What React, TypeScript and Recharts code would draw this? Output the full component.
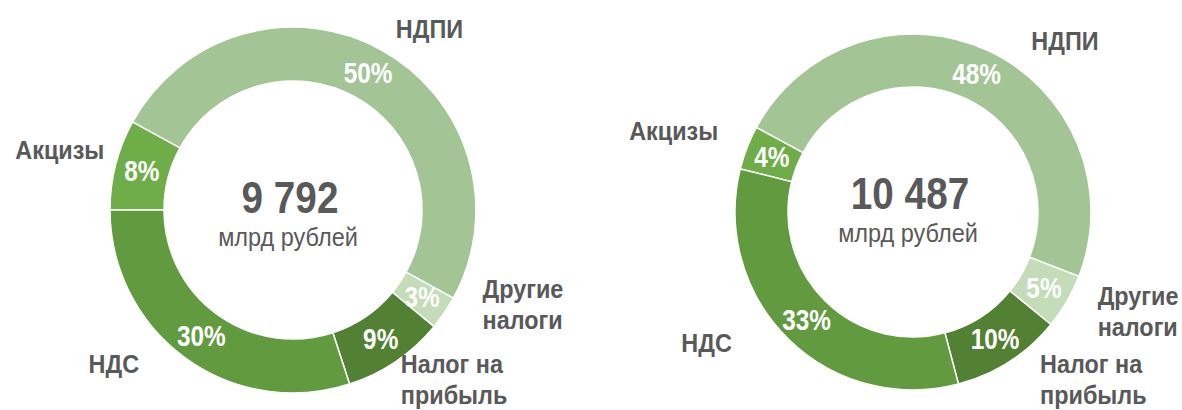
import { PieChart, Pie, Cell } from "recharts";

// slice order runs clockwise from the left edge of each ring
const categories = ["Акцизы", "НДПИ", "Другие налоги", "Налог на прибыль", "НДС"];
const nameLines = [["Акцизы"], ["НДПИ"], ["Другие", "налоги"], ["Налог на", "прибыль"], ["НДС"]];
const leftShares = [8, 50, 3, 9, 30];
const rightShares = [4, 48, 5, 10, 33];
const totals = ["9 792", "10 487"];
const unit = "млрд рублей";

const COLORS = ["#6EAD47", "#A3C595", "#C4DCB7", "#528133", "#629B3F"];
const TEXT = "#595959";
const FONT = "'Liberation Sans', Arial, sans-serif";

// small hand nudges for the outside names, as in the original slide
const leftNudge = [[4, -11], [7, -7], [25, -33], [-4, -11], [-37, -7]];
const rightNudge = [[-14, -11], [37, 5], [17, -14], [22, -12], [-45, -8]];

const leftData = categories.map((name, i) => ({ name, value: leftShares[i] }));
const rightData = categories.map((name, i) => ({ name, value: rightShares[i] }));

// narrow-looking text: squeeze horizontally around its anchor point
function Narrow({ x, y, sx, children, ...rest }: any) {
  return (
    <g transform={`translate(${x},${y}) scale(${sx},1)`}>
      <text x={0} y={0} dominantBaseline="central" fontFamily={FONT} {...rest}>
        {children}
      </text>
    </g>
  );
}

function makeLabel(total: string, nudge: number[][], centerShift: number) {
  return (p: any) => {
    const { cx, cy, midAngle, innerRadius, outerRadius, value, index } = p;
    const rad = Math.PI / 180;
    const cos = Math.cos(-midAngle * rad);
    const sin = Math.sin(-midAngle * rad);
    const rm = (innerRadius + outerRadius) / 2;
    const rn = outerRadius + 16;
    const anchor = cos > 0.3 ? "start" : cos < -0.3 ? "end" : "middle";
    const nx = cx + rn * cos + nudge[index][0];
    const ny = cy + rn * sin + nudge[index][1];
    const lines = nameLines[index];
    return (
      <g key={index}>
        <Narrow
          x={cx + rm * cos}
          y={cy + rm * sin}
          sx={0.84}
          fill="#fff"
          textAnchor="middle"
          fontWeight="bold"
          fontSize={29}
        >
          {value}%
        </Narrow>
        <g transform={`translate(${nx},${ny}) scale(0.9,1)`}>
          <text
            x={0}
            y={0}
            fill={TEXT}
            textAnchor={anchor}
            dominantBaseline="central"
            fontFamily={FONT}
            fontWeight="bold"
            fontSize={26}
          >
            {lines.map((l, i) => (
              <tspan key={i} x={0} dy={i === 0 ? 0 : 31}>
                {l}
              </tspan>
            ))}
          </text>
        </g>
        {index === 0 && (
          <g>
            <Narrow
              x={cx - 3}
              y={cy - 13 + centerShift}
              sx={0.86}
              fill={TEXT}
              textAnchor="middle"
              fontWeight="bold"
              fontSize={45}
            >
              {total}
            </Narrow>
            <Narrow
              x={cx - 5}
              y={cy + 27 + centerShift}
              sx={0.94}
              fill={TEXT}
              textAnchor="middle"
              fontSize={25}
            >
              {unit}
            </Narrow>
          </g>
        )}
      </g>
    );
  };
}

export default function App() {
  return (
    <div style={{ position: "absolute", left: 0, top: 0, width: 1182, height: 410, background: "#fff" }}>
      <PieChart width={1182} height={410} margin={{ top: 0, right: 0, bottom: 0, left: 0 }}>
        <Pie
          data={leftData}
          dataKey="value"
          nameKey="name"
          cx={293}
          cy={210}
          innerRadius={129}
          outerRadius={183}
          startAngle={180}
          endAngle={-180}
          stroke="#fff"
          strokeWidth={1.5}
          labelLine={false}
          label={makeLabel(totals[0], leftNudge, 0)}
          isAnimationActive={false}
        >
          {leftData.map((d, i) => (
            <Cell key={d.name} fill={COLORS[i]} />
          ))}
        </Pie>
        <Pie
          data={rightData}
          dataKey="value"
          nameKey="name"
          cx={913}
          cy={212}
          innerRadius={125}
          outerRadius={178}
          startAngle={166}
          endAngle={-194}
          stroke="#fff"
          strokeWidth={1.5}
          labelLine={false}
          label={makeLabel(totals[1], rightNudge, -6)}
          isAnimationActive={false}
        >
          {rightData.map((d, i) => (
            <Cell key={d.name} fill={COLORS[i]} />
          ))}
        </Pie>
      </PieChart>
    </div>
  );
}
